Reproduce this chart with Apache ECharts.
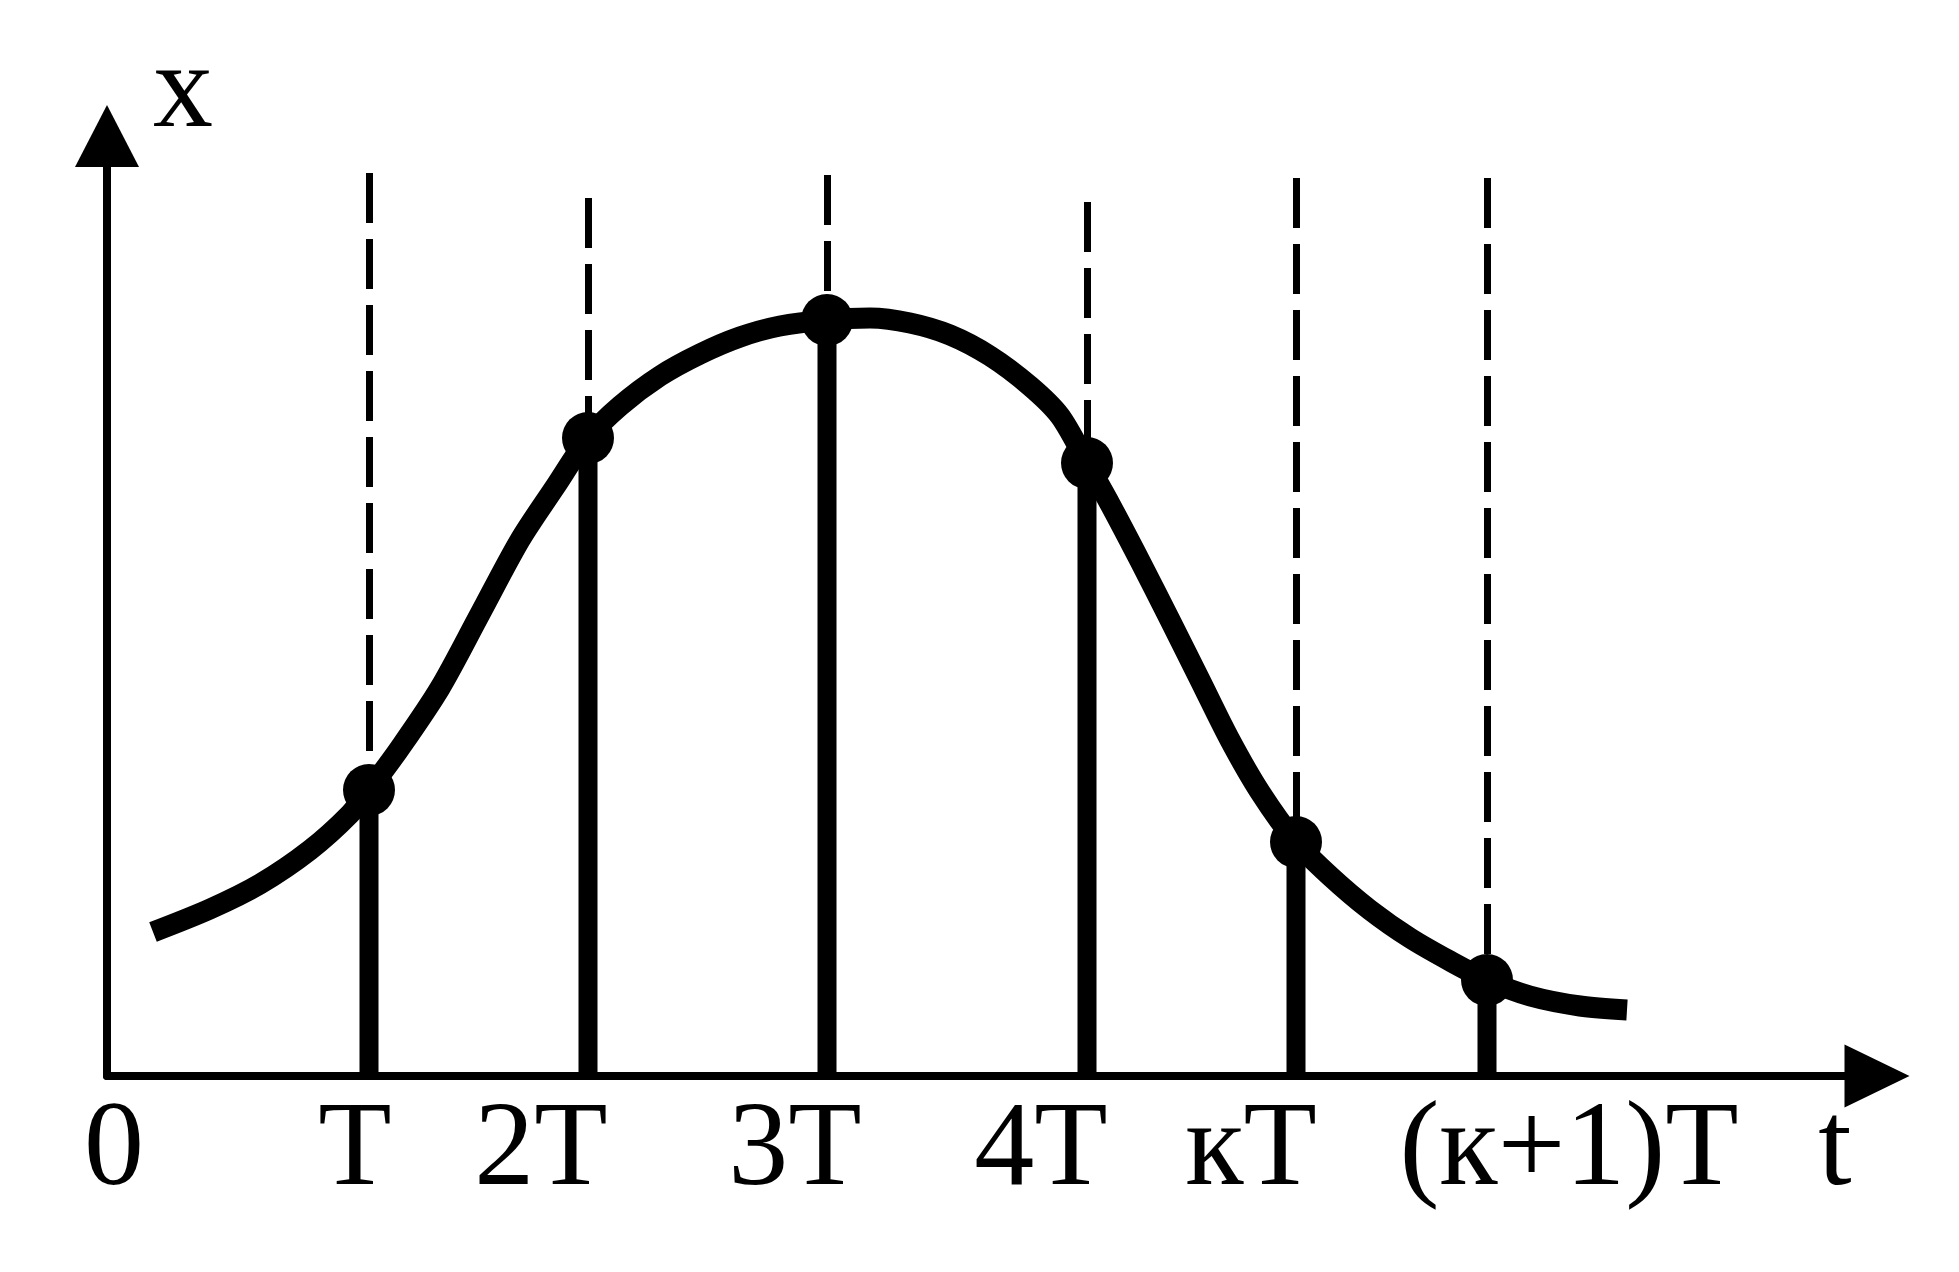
<!DOCTYPE html>
<html>
<head>
<meta charset="utf-8">
<style>
html,body{margin:0;padding:0;background:#fff;}
#chart{width:1959px;height:1272px;}
</style>
<script src="https://cdn.jsdelivr.net/npm/echarts@6/dist/echarts.min.js"></script>
</head>
<body>
<div id="chart"></div>
<script>
// sample instants (t positions, axis units)
const sampleT      = [2.62, 4.81, 7.20, 9.80, 11.89, 13.80];
// sampled values x(kT)
const sampleX      = [2.86, 6.38, 7.56, 6.13, 2.34, 0.96];
// top end of the dashed guide lines
const guideTop     = [9.03, 8.78, 9.01, 8.74, 8.98, 8.98];
// continuous signal x(t)
const curveT = [0.46, 1.03, 1.53, 2.03, 2.43, 2.62, 2.93, 3.33, 3.73, 4.13, 4.48, 4.81, 5.13, 5.53, 5.93, 6.33, 6.73, 7.20, 7.63, 8.03, 8.43, 8.83, 9.23, 9.53, 9.80, 10.03, 10.33, 10.63, 10.93, 11.23, 11.53, 11.89, 12.23, 12.63, 13.03, 13.43, 13.80, 14.23, 14.73, 15.20];
const curveX = [1.44, 1.67, 1.92, 2.26, 2.62, 2.86, 3.28, 3.88, 4.62, 5.36, 5.89, 6.38, 6.70, 7.00, 7.22, 7.39, 7.50, 7.56, 7.58, 7.53, 7.41, 7.20, 6.90, 6.60, 6.13, 5.72, 5.15, 4.56, 3.96, 3.36, 2.84, 2.34, 2.00, 1.66, 1.38, 1.15, 0.96, 0.80, 0.70, 0.66];
// tick labels on the time axis and their positions
const tickLabels = ['0', 'T', '2T', '3T', '4T', 'кT', '(к+1)T', 't'];
const tickPos    = [0.07, 2.48, 4.34, 6.88, 9.34, 11.44, 14.62, 17.28];

const chart = echarts.init(document.getElementById('chart'));
const font = "'Liberation Serif', 'Times New Roman', serif";

chart.setOption({
  animation: false,
  backgroundColor: '#fff',
  grid: {left: 107, right: 82, top: 136, bottom: 196, containLabel: false},
  xAxis: {
    type: 'value', min: 0, max: 17.7,
    axisLine: {show: true, onZero: false, symbol: ['none', 'triangle'], symbolSize: [63, 65],
      lineStyle: {color: '#000', width: 8}},
    axisTick: {show: false},
    splitLine: {show: false},
    axisLabel: {
      show: true, customValues: tickPos, margin: 16,
      color: '#000', fontFamily: font, fontSize: 120,
      formatter: function (v) {
        let best = 0, d = 1e9;
        tickPos.forEach((p, i) => { if (Math.abs(p - v) < d) { d = Math.abs(p - v); best = i; } });
        return tickLabels[best];
      }
    }
  },
  yAxis: {
    type: 'value', min: 0, max: 9.4,
    name: 'x', nameLocation: 'end', nameGap: -18,
    nameTextStyle: {color: '#000', fontFamily: font, fontSize: 120, align: 'left', padding: [0, 0, 0, 46]},
    axisLine: {show: true, onZero: false, symbol: ['none', 'triangle'], symbolSize: [64, 62],
      lineStyle: {color: '#000', width: 8}},
    axisTick: {show: false},
    splitLine: {show: false},
    axisLabel: {show: false}
  },
  series: [
    {
      type: 'lines', coordinateSystem: 'cartesian2d', z: 1,
      lineStyle: {color: '#000', width: 7, type: [50, 16], opacity: 1},
      data: sampleT.map((t, i) => ({coords: [[t, guideTop[i]], [t, sampleX[i]]]}))
    },
    {
      type: 'bar', barWidth: 19, z: 2,
      itemStyle: {color: '#000'},
      data: sampleT.map((t, i) => [t, sampleX[i]])
    },
    {
      type: 'line', smooth: 0.3, showSymbol: false, z: 3,
      lineStyle: {color: '#000', width: 21, join: 'round'},
      data: curveT.map((t, i) => [t, curveX[i]])
    },
    {
      type: 'scatter', symbol: 'circle', symbolSize: 52, z: 4,
      itemStyle: {color: '#000', opacity: 1},
      data: sampleT.map((t, i) => [t, sampleX[i]])
    }
  ]
});
</script>
</body>
</html>
